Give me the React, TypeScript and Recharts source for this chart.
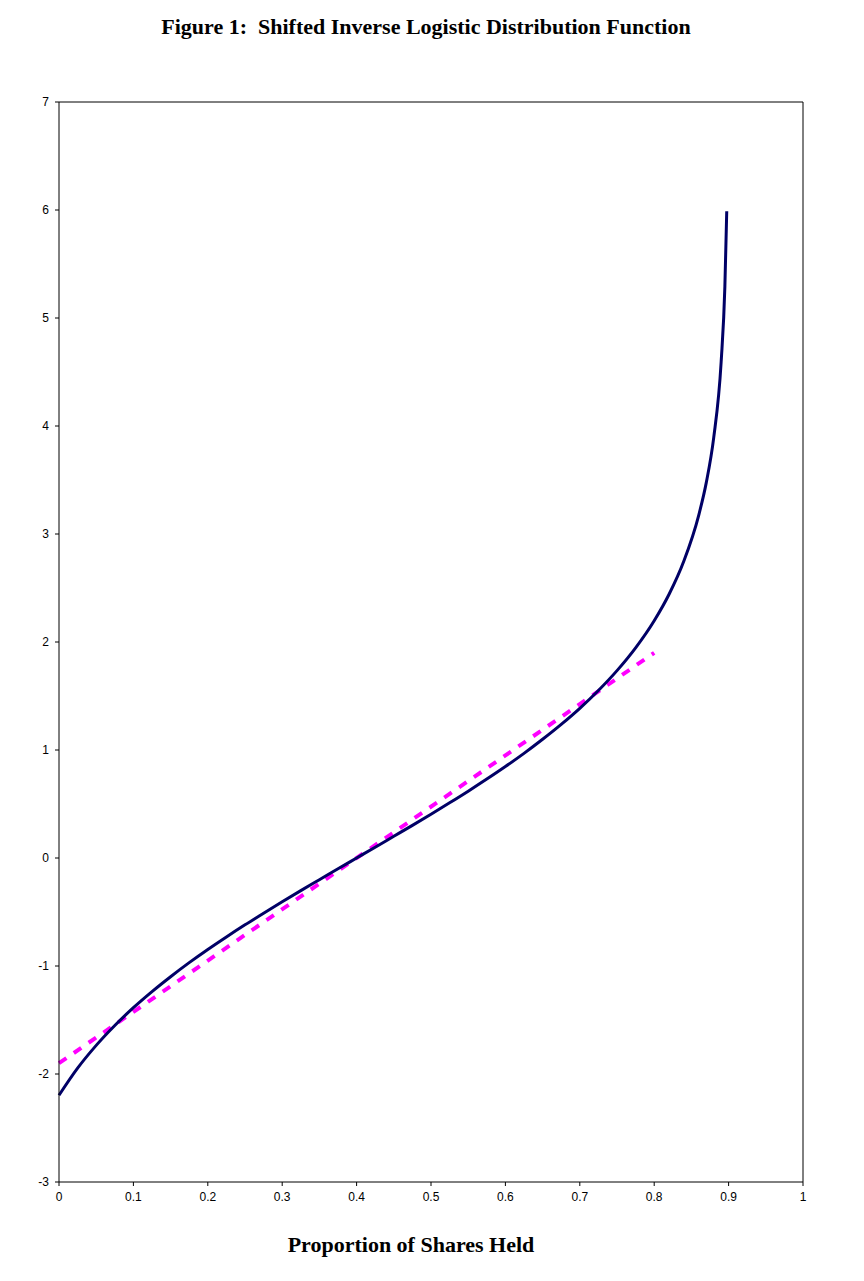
import React from "react";
import { LineChart, Line, XAxis, YAxis, ReferenceLine } from "recharts";

const curveX = [0, 0.025, 0.05, 0.075, 0.1, 0.125, 0.15, 0.175, 0.2, 0.225, 0.25, 0.275, 0.3, 0.325, 0.35, 0.375, 0.4, 0.425, 0.45, 0.475, 0.5, 0.525, 0.55, 0.575, 0.6, 0.625, 0.65, 0.675, 0.7, 0.725, 0.75, 0.775, 0.8, 0.82, 0.84, 0.86, 0.87, 0.88, 0.89, 0.895, 0.8975];
const curveY = [-2.197, -1.946, -1.735, -1.551, -1.386, -1.237, -1.099, -0.969, -0.847, -0.731, -0.619, -0.511, -0.405, -0.302, -0.201, -0.1, 0, 0.1, 0.201, 0.302, 0.405, 0.511, 0.619, 0.731, 0.847, 0.969, 1.099, 1.237, 1.386, 1.551, 1.735, 1.946, 2.197, 2.442, 2.752, 3.178, 3.476, 3.892, 4.595, 5.293, 5.989];
const lineX = [0, 0.8];
const lineY = [-1.9, 1.9];
const xTicks = [0, 0.1, 0.2, 0.3, 0.4, 0.5, 0.6, 0.7, 0.8, 0.9, 1];
const yTicks = [-3, -2, -1, 0, 1, 2, 3, 4, 5, 6, 7];
const title = "Figure 1:  Shifted Inverse Logistic Distribution Function";
const xLabel = "Proportion of Shares Held";

const curveData = curveX.map((x, i) => ({ x, y: curveY[i] }));
const lineData = lineX.map((x, i) => ({ x, y: lineY[i] }));

export default function App() {
  const tickStyle = { fontSize: 12, fill: "#000", fontFamily: "Liberation Sans, Arial, sans-serif" };
  return (
    <div style={{ position: "absolute", left: 0, top: 0, width: 864, height: 1281, background: "#fff" }}>
      <div
        style={{
          position: "absolute",
          left: 0,
          width: 852,
          top: 14,
          textAlign: "center",
          fontFamily: "Liberation Serif, Times New Roman, serif",
          fontWeight: "bold",
          fontSize: 22,
          whiteSpace: "pre",
        }}
      >
        {title}
      </div>
      <LineChart width={864} height={1281} margin={{ top: 102, left: 19, right: 61, bottom: 69 }}>
        <XAxis
          type="number"
          dataKey="x"
          domain={[0, 1]}
          ticks={xTicks}
          tick={tickStyle}
          tickSize={4}
          tickMargin={6}
          height={30}
          stroke="#000"
          allowDuplicatedCategory={false}
          tickFormatter={(v: number) => String(v)}
        />
        <YAxis
          type="number"
          dataKey="y"
          domain={[-3, 7]}
          ticks={yTicks}
          tick={tickStyle}
          tickSize={4}
          tickMargin={6}
          width={40}
          stroke="#000"
          interval={0}
        />
        <ReferenceLine y={7} stroke="#000" strokeWidth={1} />
        <ReferenceLine x={1} stroke="#000" strokeWidth={1} />
        <Line
          data={lineData}
          dataKey="y"
          type="linear"
          stroke="#ff00ff"
          strokeWidth={4}
          strokeDasharray="9 9"
          dot={false}
          isAnimationActive={false}
        />
        <Line
          data={curveData}
          dataKey="y"
          type="monotone"
          stroke="#000066"
          strokeWidth={3}
          dot={false}
          isAnimationActive={false}
        />
      </LineChart>
      <div
        style={{
          position: "absolute",
          left: 0,
          width: 822,
          top: 1232,
          textAlign: "center",
          fontFamily: "Liberation Serif, Times New Roman, serif",
          fontWeight: "bold",
          fontSize: 22,
        }}
      >
        {xLabel}
      </div>
    </div>
  );
}
